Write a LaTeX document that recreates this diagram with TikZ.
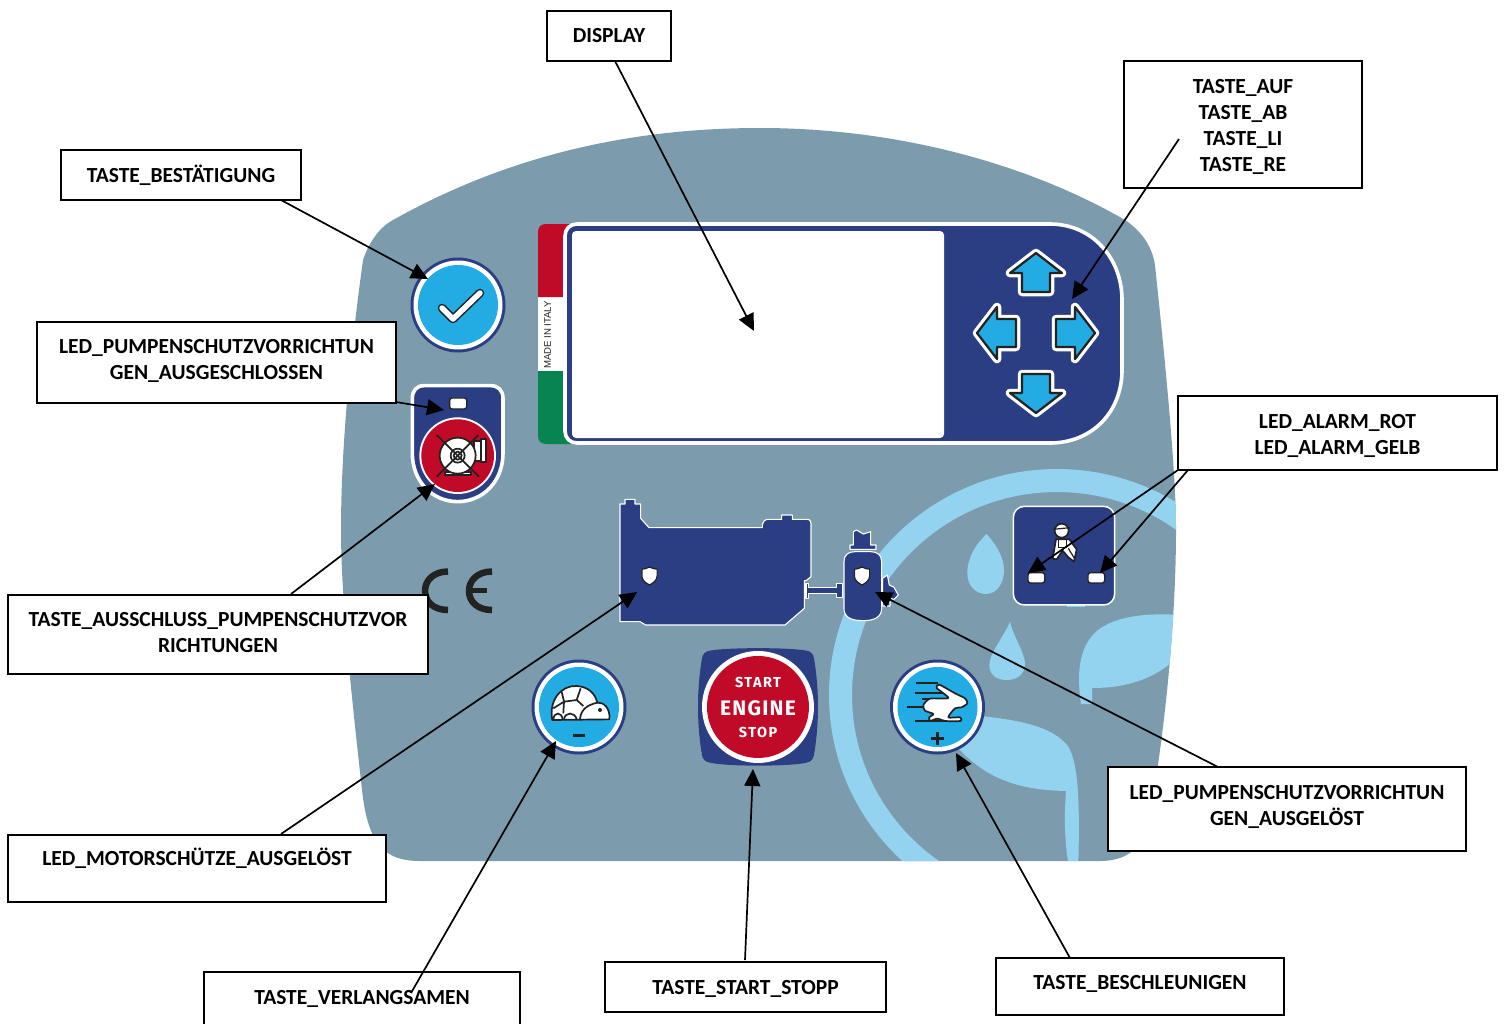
\documentclass[tikz,border=0pt]{standalone}
\usepackage{fontspec}
\setmainfont{Carlito}
\newfontfamily\panelfont{Fira Sans}
\newfontfamily\italyfont{Liberation Sans}
\usetikzlibrary{arrows.meta}
\definecolor{panel}{HTML}{7C9CAE}
\definecolor{lightb}{HTML}{93D3EF}
\definecolor{navy}{HTML}{2B3E83}
\definecolor{skyb}{HTML}{22ACE3}
\definecolor{redb}{HTML}{C00A27}
\definecolor{greenb}{HTML}{078450}
\definecolor{ink}{HTML}{222222}
\newcommand\dnrule[1]{\rule[-#1pt]{0pt}{#1pt}}
\newcommand\uprule[1]{\rule{0pt}{#1pt}}
\newcommand\roundbtn[2]{%
  \fill[navy] (#1,#2) circle[radius=47.5];
  \fill[white] (#1,#2) circle[radius=44.5];
  \fill[skyb] (#1,#2) circle[radius=40];}
\newcommand\shieldat[2]{%
  \begin{scope}[shift={(#1,#2)}]
  \draw[fill=white,draw=ink,line width=1.2pt,line join=round] (0,-9) .. controls (-3,-7.5) and (-5,-7) .. (-7.6,-6.8) -- (-7.6,0) .. controls (-7.6,4) and (-4,7) .. (0,9) .. controls (4,7) and (7.6,4) .. (7.6,0) -- (7.6,-6.8) .. controls (5,-7) and (3,-7.5) .. (0,-9) -- cycle;
  \end{scope}}
% #1 rotation about the key cluster, #2 distance of the arrow base from its centre
\newcommand\arrowkey[2]{%
  \begin{scope}[shift={(1036,333)},rotate=#1]
  \begin{scope}[shift={(0,-#2)}]
  \path[keyline] (0,-39) -- (26,-19) -- (14,-19) -- (14,0) -- (-14,0) -- (-14,-19) -- (-26,-19) -- cycle;
  \path[keyfill] (0,-39) -- (26,-19) -- (14,-19) -- (14,0) -- (-14,0) -- (-14,-19) -- (-26,-19) -- cycle;
  \end{scope}
  \end{scope}}
\tikzset{
  lbox/.style={draw=black,fill=white,line width=1.8pt,inner sep=0pt,align=center,text=black,
    font=\fontsize{21.5}{26}\selectfont\bfseries},
  conn/.style={draw=black,line width=1.7pt,-{Triangle[length=17pt,width=16pt]}},
  keyline/.style={draw=white,line width=8.5pt,line join=round},
  keyfill/.style={fill=skyb,draw=ink,line width=2.2pt,line join=round},
  icon/.style={fill=white,draw=ink,line width=1.7pt,line join=round},
  darkl/.style={draw=ink,line width=1.7pt},
  ledr/.style={fill=white,draw=ink,line width=1.3pt,rounded corners=2.5pt},
  outl/.style={fill=navy,draw=white,line width=1.1pt,line join=round},
  zoomA/.style={shift={(400,240)},x=.3333pt,y=-.3333pt},
  zoomB/.style={shift={(600,490)},x=.3333pt,y=-.3333pt},
  zoomC/.style={shift={(880,460)},x=.3333pt,y=-.3333pt},
  zoomE/.style={shift={(520,650)},x=.3333pt,y=-.3333pt},
  zoomF/.style={shift={(820,690)},x=.3333pt,y=-.3333pt},
}
\begin{document}
\begin{tikzpicture}[x=1pt,y=-1pt]
\useasboundingbox (0,0) rectangle (1509,1023);
% ---- panel
\def\panelpath{(363,260) .. controls (368,245) and (378,228) .. (393,220) .. controls (500,160) and (620,128) .. (760,128) .. controls (900,128) and (1030,165) .. (1125,220) .. controls (1140,230) and (1152,245) .. (1155,265) .. controls (1165,360) and (1176,470) .. (1176,530) .. controls (1176,620) and (1165,730) .. (1150,815) .. controls (1145,845) and (1130,861) .. (1100,861) -- (420,861) .. controls (385,861) and (368,845) .. (362,790) .. controls (352,700) and (341,600) .. (341,530) .. controls (341,440) and (352,340) .. (363,260) -- cycle}
\fill[panel] \panelpath;
\begin{scope}
  \clip \panelpath;
  \fill[lightb,even odd rule] (1057,695) ellipse[x radius=228,y radius=226] (1057,695) ellipse[x radius=205,y radius=203];
  % leaf right
  \fill[lightb] (1081,704) .. controls (1076,670) and (1080,645) .. (1098,630) .. controls (1118,615) and (1150,613) .. (1180,615) -- (1180,655) .. controls (1155,680) and (1125,688) .. (1092,688) -- (1092,704) -- cycle;
  % leaf bottom
  \begin{scope}[zoomF]
  \fill[lightb] (480,78) .. controls (600,90) and (700,110) .. (745,170) .. controls (775,220) and (780,340) .. (775,520) -- (745,520) .. controls (730,430) and (735,350) .. (738,303) .. controls (620,300) and (510,280) .. (410,170) -- cycle;
  \end{scope}
  % drops
  \begin{scope}[zoomC]
  \fill[lightb] (320,222) .. controls (290,250) and (262,290) .. (262,340) .. controls (262,380) and (290,402) .. (318,402) .. controls (350,402) and (372,370) .. (372,330) .. controls (372,290) and (345,250) .. (320,222) -- cycle;
  \fill[lightb] (390,485) .. controls (372,530) and (328,580) .. (328,615) .. controls (328,645) and (350,660) .. (380,660) .. controls (415,660) and (435,640) .. (435,610) .. controls (435,580) and (400,530) .. (390,485) -- cycle;
  \end{scope}
\end{scope}
% ---- flag
\fill[greenb] (538,371) -- (575,371) -- (575,444) -- (546,444) .. controls (541,444) and (538,441) .. (538,436) -- cycle;
\fill[white] (538,297) rectangle (575,371);
\fill[redb] (538,297) -- (538,232) .. controls (538,227) and (541,224) .. (546,224) -- (575,224) -- (575,297) -- cycle;
\node[rotate=90,font=\italyfont\fontsize{9.6}{10}\selectfont,text=ink,inner sep=0pt] (italy) at (547.5,335) {MADE IN ITALY};
% ---- display body
\path[fill=navy,draw=white,line width=3.6pt] (577,224) -- (1050,224) .. controls (1092,224) and (1122,258) .. (1122,300) -- (1122,370) .. controls (1122,412) and (1092,443) .. (1050,443) -- (577,443) .. controls (570,443) and (565,438) .. (565,431) -- (565,236) .. controls (565,229) and (570,224) .. (577,224) -- cycle;
\fill[white,rounded corners=4pt] (572,231) rectangle (944,438);
\arrowkey{0}{41}\arrowkey{90}{20}\arrowkey{180}{41}\arrowkey{270}{20}
% ---- confirm button
\roundbtn{458}{305}
\draw[ink,line width=8.5pt,line cap=round,line join=round] (442,308) -- (453,319) -- (480,293);
\draw[white,line width=5.5pt,line cap=round,line join=round] (442,308) -- (453,319) -- (480,293);
% ---- pump button
\begin{scope}[zoomA]
\path[fill=navy,draw=white,line width=3.6pt] (37,475) .. controls (37,452) and (50,437) .. (72,437) -- (272,437) .. controls (295,437) and (309,452) .. (309,475) -- (309,640) .. controls (309,725) and (248,785) .. (173,785) .. controls (98,785) and (37,725) .. (37,640) -- cycle;
\path[ledr] (149,474) rectangle (200,507);
\fill[white] (173,647) circle[radius=115];
\fill[redb] (173,647) circle[radius=109];
\path[icon] (222,604) rectangle (246,662);
\path[icon] (243,596) rectangle (257,667);
\path[icon] (135,697) rectangle (213,706);
\path[icon] (173,647) circle[radius=54];
\draw[darkl] (173,647) circle[radius=21];
\draw[darkl] (173,647) circle[radius=12];
\draw[darkl] (110,585) -- (237,710);
\draw[darkl] (235,585) -- (110,710);
\end{scope}
% ---- CE
\draw[ink,line width=6.5pt] (448,571.5) .. controls (434,571.5) and (425,580) .. (425,591) .. controls (425,602) and (434,610) .. (448,610);
\draw[ink,line width=6.5pt] (492,571.5) .. controls (478,571.5) and (469,580) .. (469,591) .. controls (469,602) and (478,610) .. (492,610);
\draw[ink,line width=5.5pt] (470,590.7) -- (487,590.7);
% ---- engine
\begin{scope}[zoomB]
\path[outl] (60,42) -- (75,42) -- (75,28) -- (105,28) -- (105,42) -- (122,42) -- (122,85) -- (147,113) -- (487,113) -- (487,105) .. controls (490,93) and (495,88) .. (505,88) -- (545,88) -- (545,75) -- (577,75) -- (577,88) -- (620,88) .. controls (630,88) and (633,93) .. (633,100) -- (633,260) -- (618,272) -- (613,272) -- (613,355) -- (555,405) -- (137,405) -- (120,395) -- (60,395) -- cycle;
\path[outl] (618,280) -- (626,280) -- (626,292) -- (710,292) -- (710,280) -- (728,280) -- (728,323) -- (710,323) -- (710,310) -- (626,310) -- (626,325) -- (618,325) -- cycle;
\path[outl] (848,265) -- (862,255) -- (868,285) -- (882,292) -- (895,315) -- (882,328) -- (870,325) -- (870,348) -- (848,348) -- cycle;
\path[outl] (760,125) -- (770,120) -- (790,132) -- (812,125) -- (812,165) -- (828,165) -- (828,178) -- (750,178) -- (750,165) -- (760,165) -- cycle;
\path[outl] (732,215) .. controls (732,195) and (745,185) .. (765,185) -- (812,185) .. controls (832,185) and (845,195) .. (845,215) -- (845,355) .. controls (845,380) and (825,392) .. (790,392) .. controls (750,392) and (732,380) .. (732,355) -- cycle;
\end{scope}
\shieldat{649.5}{576}
\shieldat{862}{576}
% ---- start button
\begin{scope}[zoomB]
\fill[navy] (330,482) .. controls (380,472) and (570,472) .. (620,482) .. controls (632,484) and (640,492) .. (642,505) .. controls (658,600) and (658,700) .. (642,795) .. controls (640,808) and (632,816) .. (620,818) .. controls (570,830) and (380,830) .. (330,818) .. controls (316,816) and (308,808) .. (306,795) .. controls (290,700) and (290,600) .. (306,505) .. controls (308,492) and (316,484) .. (330,482) -- cycle;
\fill[white] (474,651) circle[radius=168];
\fill[redb] (474,651) circle[radius=153];
\end{scope}
\node[inner sep=0pt,text=white,font=\panelfont\fontsize{14.5}{15}\selectfont\bfseries\addfontfeature{LetterSpace=10}] (startl) at (758,682.5) {START};
\node[inner sep=0pt,text=white,font=\panelfont\fontsize{21}{22}\selectfont\bfseries\addfontfeature{LetterSpace=6}] (enginel) at (758,708) {ENGINE};
\node[inner sep=0pt,text=white,font=\panelfont\fontsize{14.5}{15}\selectfont\bfseries\addfontfeature{LetterSpace=10}] (stopl) at (758,732.5) {STOP};
% ---- slow button
\roundbtn{579}{707}
\begin{scope}[zoomE]
\path[icon] (97,210) .. controls (85,150) and (125,105) .. (170,108) .. controls (205,110) and (225,130) .. (232,158) .. controls (250,155) and (272,175) .. (268,208) -- cycle;
\draw[darkl] (125,125) -- (132,155) -- (170,150) -- (182,115);
\draw[darkl] (170,150) -- (190,168);
\draw[darkl] (132,155) -- (100,175);
\draw[darkl] (132,155) -- (130,190);
\draw[darkl] (180,208) .. controls (182,180) and (200,165) .. (232,158);
\draw[darkl] (100,208) .. controls (102,185) and (125,185) .. (128,208);
\draw[darkl] (132,208) .. controls (135,185) and (165,185) .. (170,208);
\fill[ink] (240,180) circle[radius=6];
\fill[ink] (159,252) rectangle (196,261);
\end{scope}
% ---- fast button
\roundbtn{937.5}{707}
\begin{scope}[zoomC]
\draw[darkl] (108,670) -- (175,670);
\draw[darkl] (105,700) -- (215,700);
\draw[darkl] (125,718) -- (180,718);
\draw[darkl] (80,742) -- (130,742);
\draw[darkl] (105,783) -- (240,783);
\path[icon] plot[smooth cycle,tension=0.4] coordinates {(130,735) (150,716) (205,714) (170,684) (178,674) (225,700) (255,715) (262,730) (245,742) (225,745) (205,772) (240,772) (242,783) (195,783) (172,776) (150,783) (148,772) (160,762) (135,752)};
\fill[ink] (154,830) rectangle (191,840);
\fill[ink] (168,816) rectangle (177,854);
\end{scope}
% ---- service box
\begin{scope}[zoomC]
\fill[lightb] (560,430) rectangle (615,441);
\path[fill=navy,draw=white,line width=1.5pt,rounded corners=11pt] (400,139) rectangle (704,435);
\path[ledr] (444,338) rectangle (494,369);
\path[ledr] (624,338) rectangle (674,369);
\path[icon] (528,238) -- (568,238) -- (590,268) -- (582,305) -- (565,292) -- (548,272) -- (530,298) -- (518,296) -- cycle;
\path[icon] (545,212) circle[radius=21];
\draw[ink,line width=1.2pt] (520,208) -- (570,203);
\draw[ink,line width=1.2pt] (535,240) -- (535,262) -- (560,262) -- (560,240);
\draw[ink,line width=1.2pt] (565,265) -- (585,298);
\end{scope}
% ---- boxes
\node[lbox,minimum width=124pt,minimum height=50pt] (bdisplay) at (609,36) {DISPLAY};
\node[lbox,minimum width=238pt,minimum height=127pt] (bkeys) at (1243,124.5) {\uprule{19}TASTE\_AUF\\TASTE\_AB\\TASTE\_LI\\TASTE\_RE};
\node[lbox,minimum width=240pt,minimum height=50pt] (bconfirm) at (181,175) {TASTE\_BESTÄTIGUNG};
\node[lbox,minimum width=359pt,minimum height=81pt] (bledexcl) at (216.5,362.5) {LED\_PUMPENSCHUTZVORRICHTUN\\GEN\_AUSGESCHLOSSEN\dnrule{7}};
\node[lbox,minimum width=319pt,minimum height=74pt] (balarm) at (1337.5,433) {\uprule{19}LED\_ALARM\_ROT\\LED\_ALARM\_GELB};
\node[lbox,minimum width=420pt,minimum height=79pt] (bexcl) at (218,634.5) {TASTE\_AUSSCHLUSS\_PUMPENSCHUTZVOR\\RICHTUNGEN\dnrule{4}};
\node[lbox,minimum width=378pt,minimum height=67pt] (bmotor) at (197,868.5) {LED\_MOTORSCHÜTZE\_AUSGELÖST\dnrule{23}};
\node[lbox,minimum width=316pt,minimum height=70pt] (bslow) at (362,1007) {TASTE\_VERLANGSAMEN\dnrule{19}};
\node[lbox,minimum width=281pt,minimum height=50pt] (bstart) at (745.5,987) {\uprule{17}TASTE\_START\_STOPP};
\node[lbox,minimum width=288pt,minimum height=57pt] (bfast) at (1140,986.5) {TASTE\_BESCHLEUNIGEN\dnrule{8}};
\node[lbox,minimum width=358pt,minimum height=84pt] (btripped) at (1287,809) {LED\_PUMPENSCHUTZVORRICHTUN\\GEN\_AUSGELÖST\dnrule{8}};
% ---- connector ends
\coordinate (sdisplay) at (615,61);   \coordinate (edisplay) at (754,331);
\coordinate (skeys) at (1179,139);    \coordinate (ekeys) at (1072,299);
\coordinate (sconfirm) at (281,200);  \coordinate (econfirm) at (428,279);
\coordinate (sledexcl) at (396,402);  \coordinate (eledexcl) at (444,410);
\coordinate (sexcl) at (291,594);     \coordinate (eexcl) at (435,484);
\coordinate (smotor) at (281,834);    \coordinate (emotor) at (637,592);
\coordinate (sslow) at (411,993);     \coordinate (eslow) at (556,741);
\coordinate (sstart) at (745,960);    \coordinate (estart) at (753,769);
\coordinate (sfast) at (1070,958);    \coordinate (efast) at (956,753);
\coordinate (stripped) at (1218,767); \coordinate (etripped) at (875,592);
\coordinate (sred) at (1178,470);     \coordinate (ered) at (1028,573);
\coordinate (syel) at (1188,470);     \coordinate (eyel) at (1100,573);
\draw[conn] (sdisplay) -- (edisplay);
\draw[conn] (skeys) -- (ekeys);
\draw[conn] (sconfirm) -- (econfirm);
\draw[conn] (sledexcl) -- (eledexcl);
\draw[conn] (sexcl) -- (eexcl);
\draw[conn] (smotor) -- (emotor);
\draw[conn] (sslow) -- (eslow);
\draw[conn] (sstart) -- (estart);
\draw[conn] (sfast) -- (efast);
\draw[conn] (stripped) -- (etripped);
\draw[conn] (sred) -- (ered);
\draw[conn] (syel) -- (eyel);
\end{tikzpicture}
\end{document}
